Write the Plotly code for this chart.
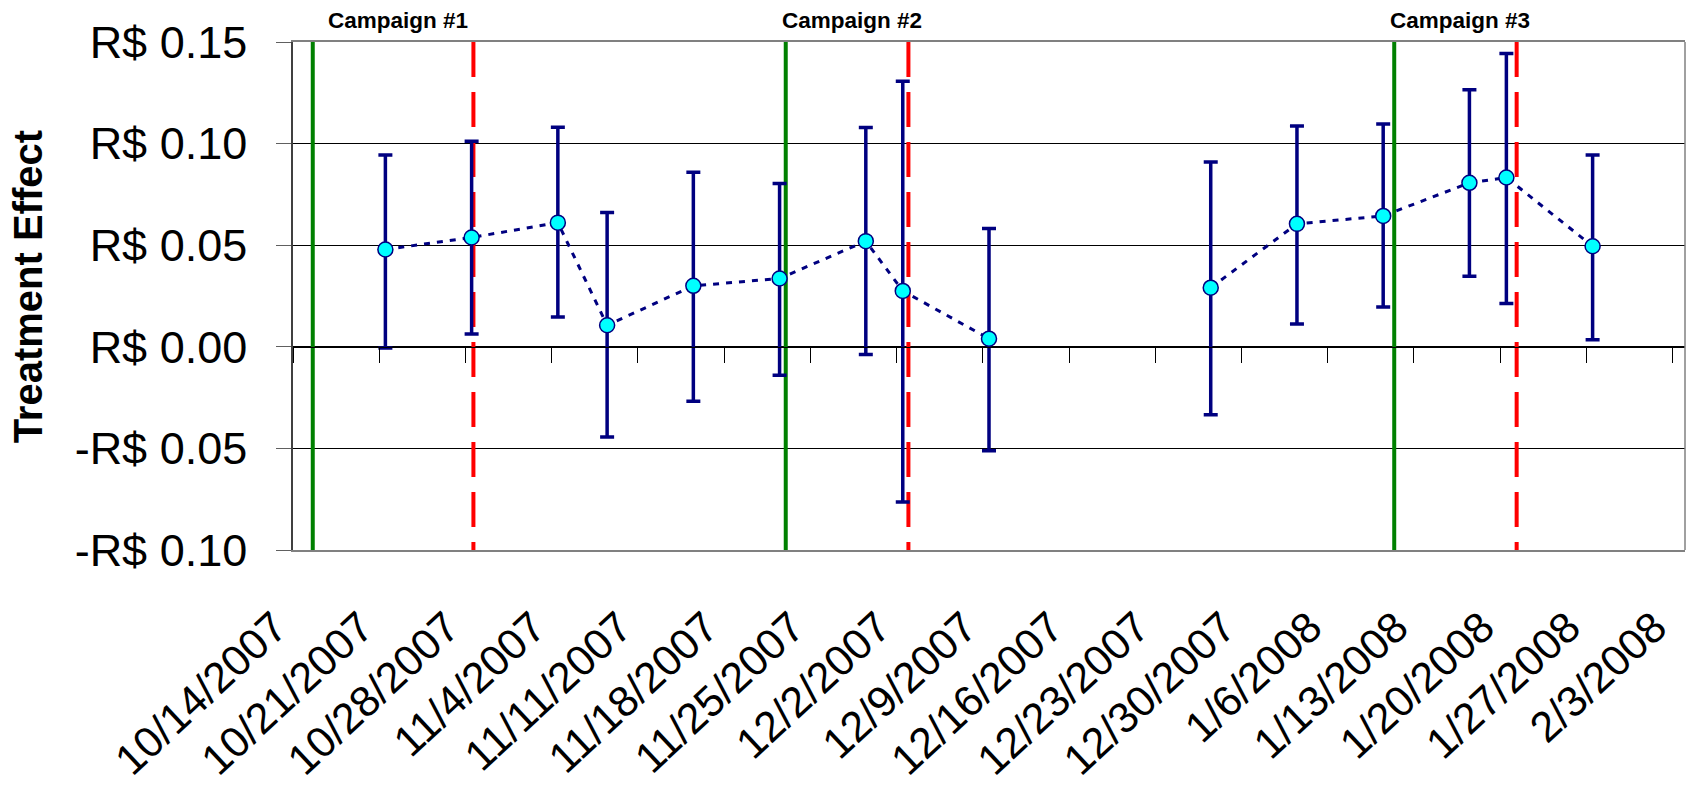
import pandas as pd
import plotly.graph_objects as go

# ---------------- data ----------------
week_dates = ["2007-10-21", "2007-10-28", "2007-11-04", "2007-11-08", "2007-11-15",
              "2007-11-22", "2007-11-29", "2007-12-02", "2007-12-09", "2007-12-27",
              "2008-01-03", "2008-01-10", "2008-01-17", "2008-01-20", "2008-01-27"]
effect = [0.0479, 0.0538, 0.0611, 0.0106, 0.0300, 0.0336, 0.0520, 0.0275, 0.0040,
          0.0291, 0.0605, 0.0644, 0.0807, 0.0833, 0.0495]
ci_upper = [0.0944, 0.1012, 0.1081, 0.0661, 0.0859, 0.0804, 0.1079, 0.1307, 0.0582,
            0.0910, 0.1087, 0.1097, 0.1265, 0.1444, 0.0944]
ci_lower = [-0.0006, 0.0063, 0.0147, -0.0444, -0.0268, -0.0140, -0.0038, -0.0764, -0.0511,
            -0.0334, 0.0112, 0.0196, 0.0347, 0.0213, 0.0035]

campaign_names = ["Campaign #1", "Campaign #2", "Campaign #3"]
campaign_start = ["2007-10-15 14:30", "2007-11-23 00:00", "2008-01-11 09:30"]
campaign_end = ["2007-10-28 15:30", "2007-12-02 23:00", "2008-01-21 08:00"]

tick_dates = ["2007-10-14", "2007-10-21", "2007-10-28", "2007-11-04", "2007-11-11",
              "2007-11-18", "2007-11-25", "2007-12-02", "2007-12-09", "2007-12-16",
              "2007-12-23", "2007-12-30", "2008-01-06", "2008-01-13", "2008-01-20",
              "2008-01-27", "2008-02-03"]
tick_labels = ["10/14/2007", "10/21/2007", "10/28/2007", "11/4/2007", "11/11/2007",
               "11/18/2007", "11/25/2007", "12/2/2007", "12/9/2007", "12/16/2007",
               "12/23/2007", "12/30/2007", "1/6/2008", "1/13/2008", "1/20/2008",
               "1/27/2008", "2/3/2008"]

y_ticks = [-0.10, -0.05, 0.00, 0.05, 0.10, 0.15]
y_tick_labels = ["-R$ 0.10", "-R$ 0.05", "R$ 0.00", "R$ 0.05", "R$ 0.10", "R$ 0.15"]

X_RANGE = ["2007-10-14", "2008-02-04"]
Y_MIN, Y_MAX = -0.10, 0.15

# ---------------- derived ----------------
# points sit in the middle of their day cell (Excel date axis)
x_pts = pd.to_datetime(pd.Series(week_dates)) + pd.Timedelta(hours=12)
err_plus = [u - e for u, e in zip(ci_upper, effect)]
err_minus = [e - l for e, l in zip(effect, ci_lower)]

# dotted connector, broken where weeks are missing
line_x, line_y = [], []
for i, (xv, yv) in enumerate(zip(x_pts, effect)):
    if i > 0 and (xv - x_pts[i - 1]).days > 14:
        line_x.append(None)
        line_y.append(None)
    line_x.append(xv)
    line_y.append(yv)

NAVY = "#000080"
FONT = "Liberation Sans, Arial, sans-serif"

fig = go.Figure()

fig.add_trace(go.Scatter(
    x=line_x, y=line_y, mode="lines", connectgaps=False,
    line=dict(color=NAVY, width=3, dash="6px,7px"),
    hoverinfo="skip", showlegend=False))

fig.add_trace(go.Scatter(
    x=x_pts, y=effect, mode="markers",
    marker=dict(color="#00FFFF", size=15, line=dict(color=NAVY, width=1.5)),
    error_y=dict(type="data", symmetric=False, array=err_plus, arrayminus=err_minus,
                 color=NAVY, thickness=3.5, width=7),
    showlegend=False))

# invisible trace to carry the zero-crossing axis with tick marks
fig.add_trace(go.Scatter(
    x=tick_dates, y=[0] * len(tick_dates), xaxis="x2", mode="markers",
    marker=dict(opacity=0), hoverinfo="skip", showlegend=False))

shapes = []
for s in campaign_start:
    shapes.append(dict(type="line", xref="x", yref="y", x0=s, x1=s, y0=Y_MAX, y1=Y_MIN,
                       line=dict(color="#008000", width=4), layer="between"))
for e in campaign_end:
    shapes.append(dict(type="line", xref="x", yref="y", x0=e, x1=e, y0=Y_MAX, y1=Y_MIN,
                       line=dict(color="#FF0000", width=4, dash="35px,15px"), layer="between"))
# right frame line
shapes.append(dict(type="line", xref="paper", yref="paper", x0=1, x1=1, y0=0, y1=1,
                   line=dict(color="#808080", width=1.5)))

annotations = []
for name, s, e in zip(campaign_names, campaign_start, campaign_end):
    mid = pd.Timestamp(s) + (pd.Timestamp(e) - pd.Timestamp(s)) / 2
    annotations.append(dict(text="<b>" + name + "</b>", x=mid, xref="x", y=1, yref="paper",
                            xanchor="center", yanchor="bottom", yshift=7, xshift=5,
                            showarrow=False, font=dict(family=FONT, size=22.5, color="black")))
annotations.append(dict(text="<b>Treatment Effect</b>", x=0, xref="paper", y=0.517, yref="paper",
                        xanchor="center", yanchor="middle", xshift=-265, textangle=-90,
                        showarrow=False, font=dict(family=FONT, size=40, color="black")))

zero_pos = (0 - Y_MIN) / (Y_MAX - Y_MIN)

fig.update_layout(
    width=1686, height=789,
    margin=dict(l=293, r=1, t=42, b=239),
    paper_bgcolor="white", plot_bgcolor="white",
    font=dict(family=FONT, color="black"),
    shapes=shapes, annotations=annotations,
    xaxis=dict(type="date", range=X_RANGE, tickvals=tick_dates, ticktext=tick_labels,
               tickangle=-43, tickfont=dict(size=43, family=FONT), ticks="",
               showgrid=False, showline=True, linecolor="#808080", linewidth=1.5,
               mirror=True, zeroline=False, automargin=False,
               ticklabeloverflow="allow", ticklabelstandoff=33, ticklabelshift=-18),
    xaxis2=dict(type="date", range=X_RANGE, overlaying="x", anchor="free", position=zero_pos,
                tickvals=tick_dates, showticklabels=False, ticks="outside", ticklen=15,
                tickcolor="black", tickwidth=1, showline=True, linecolor="black", linewidth=1,
                showgrid=False, zeroline=False, automargin=False),
    yaxis=dict(range=[Y_MIN, Y_MAX], tickvals=y_ticks, ticktext=y_tick_labels,
               tickfont=dict(size=45, family=FONT), showgrid=True, gridcolor="black",
               gridwidth=1, zeroline=False, showline=True, linecolor="#404040", linewidth=1.5,
               ticks="outside", ticklen=15, tickcolor="#606060", ticklabelstandoff=20,
               automargin=False),
)

fig.write_html("out.html",
               config={"displayModeBar": False},
               post_script="document.body.style.margin='0px';"
                           "document.body.style.overflow='hidden';")
